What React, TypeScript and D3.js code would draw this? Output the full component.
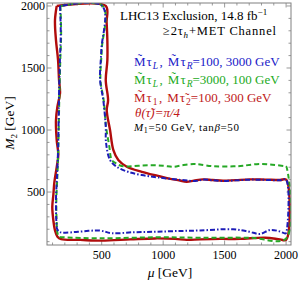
import React from "react";
import * as d3 from "d3";

// contour points, [mu, M2] in GeV
const redContour: [number, number][] = [
  [134, 2000], [120, 1885], [128, 1724], [145, 1563], [153, 1402], [161, 1297],
  [139, 1184], [128, 1079], [134, 918], [147, 800], [134, 700], [115, 580],
  [107, 480], [98, 380], [107, 270], [120, 190], [140, 140], [170, 120],
  [324, 114], [500, 108], [731, 118], [934, 126], [1097, 122], [1192, 114],
  [1300, 118], [1463, 122], [1626, 122], [1829, 132], [1951, 118], [2000, 114],
  [2000, 600], [1951, 597], [1830, 600], [1707, 602], [1590, 596], [1487, 591],
  [1400, 597], [1325, 602], [1250, 592], [1192, 583], [1120, 596], [1050, 608],
  [958, 630], [826, 663], [704, 704], [635, 758], [595, 838], [568, 999],
  [541, 1160], [552, 1241], [533, 1402], [546, 1560], [546, 1724], [540, 1870],
  [533, 2000], [134, 2000],
];

const greenContour: [number, number][] = [
  [164, 2000], [170, 1780], [163, 1560], [156, 1297], [152, 1100], [147, 838],
  [140, 640], [131, 435], [134, 250], [140, 170], [152, 140], [202, 135],
  [500, 127], [934, 135], [1300, 132], [1707, 132], [2000, 126], [2000, 709],
  [1992, 709], [1870, 722], [1761, 725], [1650, 712], [1571, 707], [1408, 708],
  [1300, 722], [1246, 726], [1150, 715], [1083, 704], [1000, 712], [893, 716],
  [800, 712], [714, 706], [650, 714], [610, 735], [582, 758], [560, 880],
  [536, 1023], [516, 1241], [490, 1402], [500, 1644], [508, 2000], [164, 2000],
];

const blueContour: [number, number][] = [
  [161, 2000], [167, 1780], [160, 1560], [153, 1297], [150, 1100], [145, 838],
  [137, 640], [128, 435], [132, 250], [138, 200], [161, 176], [202, 172],
  [307, 180], [487, 189], [582, 168], [760, 176], [934, 180], [1100, 185],
  [1300, 190], [1569, 200], [1700, 180], [1788, 162], [1870, 194], [1940, 185],
  [1992, 166], [2000, 170], [2000, 600], [1951, 595], [1830, 598], [1707, 600],
  [1590, 594], [1487, 589], [1400, 595], [1325, 600], [1260, 589], [1151, 597],
  [958, 618], [826, 637], [714, 663], [622, 704], [568, 758], [535, 900],
  [533, 1023], [513, 1241], [487, 1402], [497, 1644], [505, 2000], [161, 2000],
];

const xMajor = [500, 1000, 1500, 2000];
const yMajor = [500, 1000, 1500, 2000];
const minorTicks = d3.range(100, 2001, 100);

const W = 300;
const H = 283;
const left = 47, right = 291, top = 3, bottom = 245;

const serif = "'Liberation Serif', 'DejaVu Serif', serif";

export default function App() {
  const x = d3.scaleLinear().domain([55, 2040]).range([left, right]);
  const y = d3.scaleLinear().domain([73, 2024]).range([bottom, top]);

  const line = d3
    .line<[number, number]>()
    .x((d) => x(d[0]))
    .y((d) => y(d[1]))
    .curve(d3.curveCatmullRom.alpha(0.5));

  const frameColor = "#808080";

  // "M̃τ_a, M̃τ_b" with a bit of extra spacing
  const stauPair = (a: string, b: string) => (
    <>
      M̃<tspan dx={1}>τ</tspan>
      <tspan fontSize={9.5} dy={2.5} dx={1} fontStyle="italic">{a}</tspan>
      <tspan dy={-2.5} dx={1.5}>,</tspan>
      <tspan dx={5}>M̃</tspan>
      <tspan dx={1}>τ</tspan>
      <tspan fontSize={9.5} dy={2.5} dx={1} fontStyle="italic">{b}</tspan>
    </>
  );

  return (
    <svg
      width={W}
      height={H}
      style={{ position: "absolute", left: 0, top: 0, background: "#fff" }}
      fontFamily={serif}
    >
      <defs>
        <clipPath id="plotArea">
          <rect x={left} y={top} width={right - left} height={bottom - top} />
        </clipPath>
      </defs>

      {/* ticks, inside the frame on all four sides */}
      <g stroke={frameColor} strokeWidth={0.8}>
        {minorTicks.map((t) => {
          const major = xMajor.includes(t);
          const len = major ? 4.5 : 2.5;
          return (
            <g key={"x" + t}>
              <line x1={x(t)} x2={x(t)} y1={bottom} y2={bottom - len} />
              <line x1={x(t)} x2={x(t)} y1={top} y2={top + len} />
            </g>
          );
        })}
        {minorTicks.map((t) => {
          const major = yMajor.includes(t);
          const len = major ? 4.5 : 2.5;
          return (
            <g key={"y" + t}>
              <line x1={left} x2={left + len} y1={y(t)} y2={y(t)} />
              <line x1={right} x2={right - len} y1={y(t)} y2={y(t)} />
            </g>
          );
        })}
      </g>

      {/* contours */}
      <g clipPath="url(#plotArea)" fill="none">
        <path d={line(redContour) || ""} stroke="#b00c0c" strokeWidth={2.4} />
        <path
          d={line(greenContour) || ""}
          stroke="#26a826"
          strokeWidth={2}
          strokeDasharray="5,3"
        />
        <path
          d={line(blueContour) || ""}
          stroke="#1c1cb8"
          strokeWidth={2}
          strokeDasharray="5,2,1.5,2"
        />
      </g>

      <rect
        x={left}
        y={top}
        width={right - left}
        height={bottom - top}
        fill="none"
        stroke={frameColor}
        strokeWidth={1}
      />

      {/* tick labels */}
      <g fontSize={12} fill="#000">
        {xMajor.map((t) => (
          <text key={t} x={x(t)} y={bottom + 14} textAnchor="middle">
            {t}
          </text>
        ))}
        {yMajor.map((t) => (
          <text key={t} x={left - 2} y={y(t) + 4} textAnchor="end">
            {t}
          </text>
        ))}
      </g>

      {/* axis titles */}
      <text x={170} y={277} fontSize={13.5} textAnchor="middle">
        <tspan fontStyle="italic">μ</tspan> [GeV]
      </text>
      <text
        transform={`translate(14,${123}) rotate(-90)`}
        fontSize={13.5}
        textAnchor="middle"
      >
        <tspan fontStyle="italic">M</tspan>
        <tspan fontSize={9} dy={3}>2</tspan>
        <tspan dy={-3}> [GeV]</tspan>
      </text>

      {/* title */}
      <text x={120} y={20} fontSize={13}>
        LHC13 Exclusion, 14.8 fb
        <tspan fontSize={9} dy={-5}>−1</tspan>
      </text>
      <text x={163} y={35} fontSize={12.5} textLength={113} lengthAdjust="spacing">
        ≥2τ<tspan fontSize={9} dy={3} fontStyle="italic">h</tspan>
        <tspan dy={-3}>+MET Channel</tspan>
      </text>

      {/* legend */}
      <g fontSize={13}>
        <text x={134} y={66} fill="#2020c8">
          {stauPair("L", "R")}
          <tspan dy={-2.5}>=100, 3000 GeV</tspan>
        </text>
        <text x={134} y={84} fill="#22aa22">
          {stauPair("L", "R")}
          <tspan dy={-2.5}>=3000, 100 GeV</tspan>
        </text>
        <text x={134} y={102} fill="#c01818">
          M̃<tspan dx={1}>τ</tspan>
          <tspan fontSize={9.5} dy={2.5} dx={1}>1</tspan>
          <tspan dy={-2.5} dx={1.5}>,</tspan>
          <tspan dx={5}>M</tspan>
          <tspan dx={1}>τ̃</tspan>
          <tspan fontSize={9.5} dy={2.5} dx={1}>2</tspan>
          <tspan dy={-2.5}>=100, 300 GeV</tspan>
        </text>
        <text x={135} y={117} fill="#c01818" fontStyle="italic">
          θ(τ̃)=π/4
        </text>
        <text x={134} y={131} fill="#000" fontSize={11} textLength={105} lengthAdjust="spacing">
          <tspan fontStyle="italic">M</tspan>
          <tspan fontSize={8} dy={2}>1</tspan>
          <tspan dy={-2}>=50 GeV, tan</tspan>
          <tspan fontStyle="italic">β</tspan>=50
        </text>
      </g>
    </svg>
  );
}
